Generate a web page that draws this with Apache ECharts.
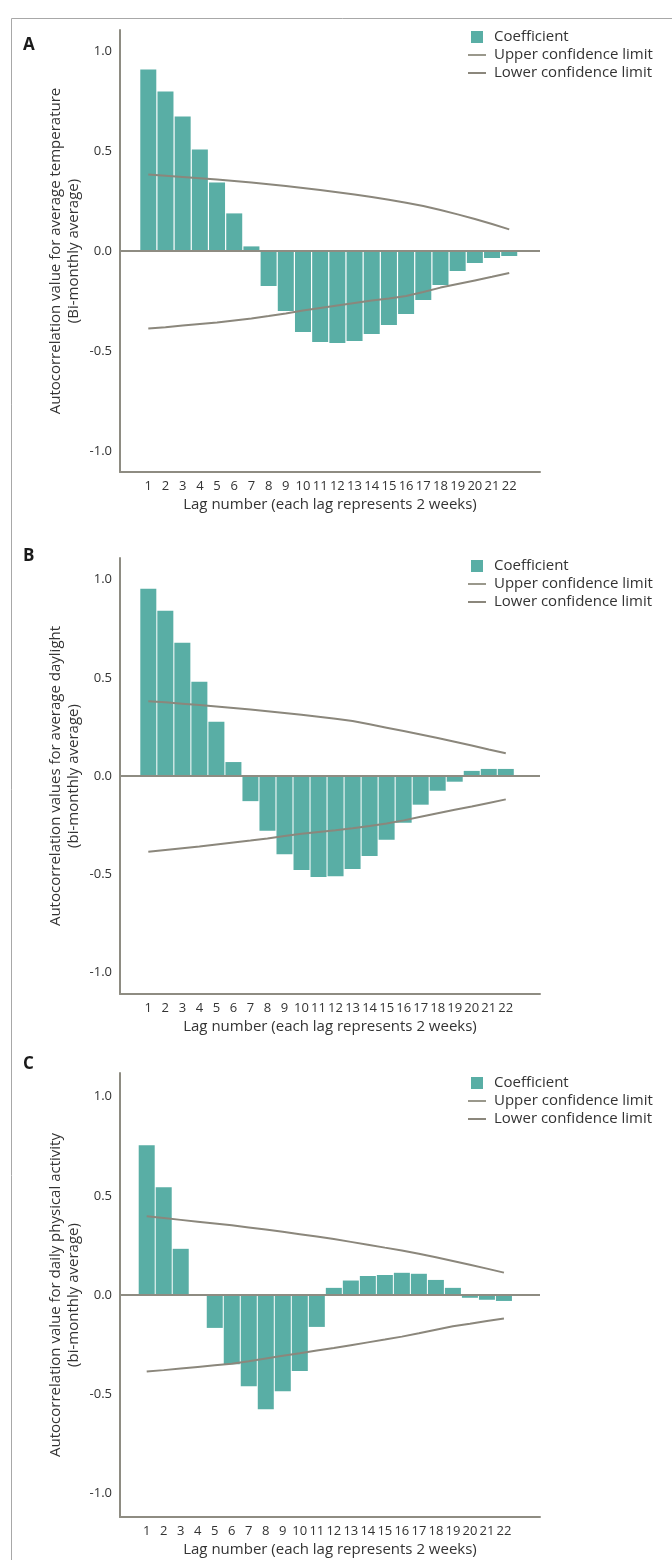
<!DOCTYPE html>
<html>
<head>
<meta charset="utf-8">
<script src="https://cdn.jsdelivr.net/npm/echarts@6/dist/echarts.min.js"></script>
<style>
html,body{margin:0;padding:0;background:#fff;}
#chart{width:672px;height:1560px;}
</style>
</head>
<body>
<div id="chart"></div>
<script>
// ---- data ----
const lags = [1,2,3,4,5,6,7,8,9,10,11,12,13,14,15,16,17,18,19,20,21,22];
const yTicks = [-1, -0.5, 0, 0.5, 1];

const coefA  = [0.907,0.798,0.673,0.508,0.343,0.188,0.023,-0.175,-0.300,-0.405,-0.455,-0.460,-0.450,-0.415,-0.370,-0.315,-0.245,-0.170,-0.100,-0.060,-0.035,-0.025];
const upperA = [0.382,0.376,0.370,0.364,0.357,0.350,0.342,0.334,0.325,0.315,0.305,0.294,0.283,0.270,0.256,0.241,0.225,0.205,0.183,0.160,0.135,0.108];
const lowerA = [-0.388,-0.381,-0.373,-0.365,-0.357,-0.347,-0.337,-0.325,-0.312,-0.298,-0.285,-0.272,-0.260,-0.248,-0.237,-0.225,-0.205,-0.183,-0.165,-0.147,-0.129,-0.110];

const coefB  = [0.954,0.842,0.679,0.480,0.276,0.071,-0.128,-0.279,-0.398,-0.478,-0.514,-0.510,-0.473,-0.407,-0.325,-0.238,-0.146,-0.075,-0.029,0.026,0.036,0.036];
const upperB = [0.380,0.375,0.368,0.361,0.354,0.346,0.338,0.330,0.321,0.312,0.302,0.292,0.280,0.263,0.246,0.229,0.211,0.193,0.174,0.155,0.135,0.116];
const lowerB = [-0.386,-0.377,-0.368,-0.359,-0.349,-0.339,-0.329,-0.318,-0.306,-0.294,-0.285,-0.276,-0.266,-0.255,-0.242,-0.226,-0.208,-0.190,-0.172,-0.155,-0.137,-0.119];

const coefC  = [0.756,0.543,0.233,0,-0.166,-0.349,-0.460,-0.577,-0.486,-0.384,-0.161,0.036,0.073,0.096,0.101,0.112,0.107,0.076,0.036,-0.014,-0.024,-0.030];
const upperC = [0.397,0.388,0.379,0.370,0.361,0.352,0.341,0.330,0.319,0.307,0.295,0.282,0.268,0.254,0.239,0.225,0.208,0.190,0.172,0.153,0.133,0.113];
const lowerC = [-0.386,-0.379,-0.371,-0.363,-0.355,-0.347,-0.334,-0.320,-0.307,-0.294,-0.280,-0.267,-0.253,-0.239,-0.225,-0.210,-0.193,-0.175,-0.158,-0.145,-0.131,-0.118];

const panelLetters = ['A', 'B', 'C'];
const yTitles = [
  'Autocorrelation value for average temperature\n(Bi-monthly average)',
  'Autocorrelation values for average daylight\n(bi-monthly average)',
  'Autocorrelation value for daily physical activity\n(bi-monthly average)'
];
const xTitle = 'Lag number (each lag represents 2 weeks)';
const seriesNames = ['Coefficient', 'Upper confidence limit', 'Lower confidence limit'];

// ---- layout / style ----
const FONT = "'Open Sans', 'Noto Sans', sans-serif";
const TEAL = '#59aea5';
const AXIS = '#8e8c82';
const CI = '#8b877c';
const TXT = '#333333';

const panels = [
  {coef: coefA, up: upperA, lo: lowerA, top: 30,   height: 442, yR: 1.105, xMin: -0.646, xMax: 23.79, letterY: 47,   legendTop: 23},
  {coef: coefB, up: upperB, lo: lowerB, top: 558,  height: 436, yR: 1.11,  xMin: -0.663, xMax: 24.01, letterY: 558,  legendTop: 552},
  {coef: coefC, up: upperC, lo: lowerC, top: 1073, height: 444, yR: 1.12,  xMin: -0.57,  xMax: 24.12, letterY: 1066, legendTop: 1069}
];

const grid = [], xAxis = [], yAxis = [], series = [], legend = [], graphic = [];

graphic.push({type: 'rect', shape: {x: 11.5, y: 18.5, width: 700, height: 1600},
  style: {fill: 'none', stroke: '#a8a8a8', lineWidth: 1}, silent: true});

panels.forEach((p, i) => {
  grid.push({left: 120, width: 420, top: p.top, height: p.height});
  xAxis.push({
    type: 'value', gridIndex: i, min: p.xMin, max: p.xMax,
    splitLine: {show: false},
    axisTick: {show: false},
    axisLine: {show: true, onZero: false, lineStyle: {color: AXIS, width: 2}},
    axisLabel: {customValues: lags, formatter: v => String(v), margin: 8,
      color: TXT, fontSize: 13, fontFamily: FONT},
    name: xTitle, nameLocation: 'middle', nameGap: 25, nameMoveOverlap: false,
    nameTextStyle: {color: TXT, fontSize: 15, fontFamily: FONT}
  });
  yAxis.push({
    type: 'value', gridIndex: i, min: -p.yR, max: p.yR,
    splitLine: {show: false},
    axisTick: {show: false},
    axisLine: {show: true, onZero: false, lineStyle: {color: AXIS, width: 2}},
    axisLabel: {customValues: yTicks, formatter: v => v.toFixed(1), margin: 8,
      color: TXT, fontSize: 13, fontFamily: FONT},
    name: yTitles[i], nameLocation: 'middle', nameGap: 37, nameMoveOverlap: false,
    nameTextStyle: {color: TXT, fontSize: 15, lineHeight: 18, fontFamily: FONT}
  });
  series.push({
    name: seriesNames[0], type: 'bar', xAxisIndex: i, yAxisIndex: i,
    data: lags.map((l, k) => [l, p.coef[k]]),
    barWidth: 16, itemStyle: {color: TEAL}, z: 2,
    markLine: {silent: true, symbol: ['none', 'none'], label: {show: false},
      lineStyle: {color: AXIS, width: 2, type: 'solid'}, data: [{yAxis: 0}], z: 3}
  });
  series.push({
    name: seriesNames[1], type: 'line', xAxisIndex: i, yAxisIndex: i,
    data: lags.map((l, k) => [l, p.up[k]]),
    symbol: 'none', lineStyle: {color: CI, width: 2}, itemStyle: {color: CI}, z: 4
  });
  series.push({
    name: seriesNames[2], type: 'line', xAxisIndex: i, yAxisIndex: i,
    data: lags.map((l, k) => [l, p.lo[k]]),
    symbol: 'none', lineStyle: {color: CI, width: 2}, itemStyle: {color: CI}, z: 4
  });
  legend.push({
    left: 463, top: p.legendTop, orient: 'vertical', selectedMode: false,
    itemWidth: 18, itemHeight: 12, itemGap: 0,
    textStyle: {color: TXT, fontSize: 15, lineHeight: 18, fontFamily: FONT, padding: [0, 0, 0, 3]},
    data: [
      {name: seriesNames[0], icon: 'path://M0 0H10V10H0Z'},
      {name: seriesNames[1], icon: 'path://M0 0H18V2H0Z', itemStyle: {color: '#9a988c'}},
      {name: seriesNames[2], icon: 'path://M0 0H18V2H0Z', itemStyle: {color: CI}}
    ]
  });
  graphic.push({type: 'text', left: 23, top: p.letterY - 10,
    style: {text: panelLetters[i], fill: '#1a1a1a', font: 'bold 17px ' + FONT}, silent: true});
});

const chart = echarts.init(document.getElementById('chart'), null, {renderer: 'canvas'});
chart.setOption({
  animation: false,
  backgroundColor: '#ffffff',
  grid, xAxis, yAxis, series, legend, graphic
});
</script>
</body>
</html>
